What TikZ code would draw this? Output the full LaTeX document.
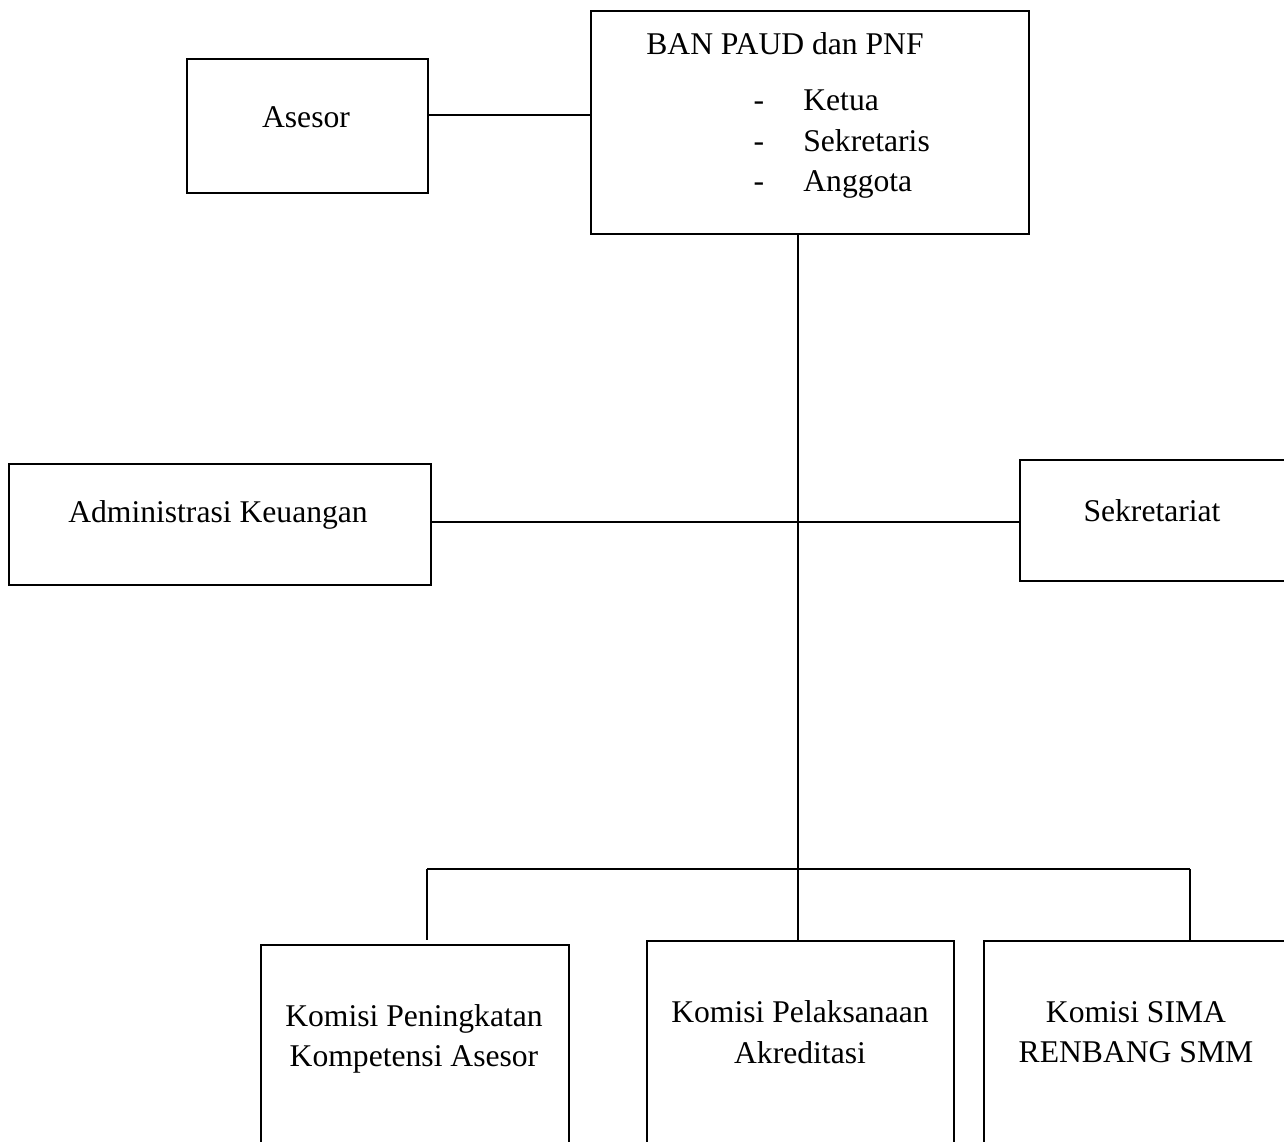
\documentclass[tikz,border=0pt]{standalone}
\usepackage{fontspec}
\setmainfont{Liberation Serif}
\usepackage{tikz}
\usetikzlibrary{arrows}

\begin{document}
\begin{tikzpicture}[x=0.02cm,y=-0.02cm,-,auto,
  font=\fontsize{18}{23}\selectfont,
  box node/.style={rectangle,draw,line width=1.1pt,anchor=north west,inner sep=0pt},
  text node/.style={inner sep=0pt,align=center},
  link/.style={line width=0.6pt}]
  \useasboundingbox (0,0) rectangle (1284,1142);
  \clip (0,0) rectangle (1284,1142);
  % boxes
  \node[box node,minimum width=8.76cm,minimum height=4.46cm] (ban) at (590,10) {};
  \node[box node,minimum width=4.82cm,minimum height=2.68cm] (asesor) at (186,58) {};
  \node[box node,minimum width=8.44cm,minimum height=2.42cm] (admin) at (8,463) {};
  \node[box node,minimum width=6.00cm,minimum height=2.42cm] (sekr) at (1019,459) {};
  \node[box node,minimum width=6.16cm,minimum height=4.60cm] (kom1) at (260,944) {};
  \node[box node,minimum width=6.14cm,minimum height=4.60cm] (kom2) at (646,940) {};
  \node[box node,minimum width=6.60cm,minimum height=4.60cm] (kom3) at (983,940) {};
  % texts
  \node[text node] (t1) at (785,44) {BAN PAUD dan PNF};
  \node[text node,anchor=base] (d1) at (759,111) {-};
  \node[text node,anchor=base] (d2) at (759,152) {-};
  \node[text node,anchor=base] (d3) at (759,192) {-};
  \node[text node,anchor=base west] (l1) at (803,111) {Ketua};
  \node[text node,anchor=base west] (l2) at (803,152) {Sekretaris};
  \node[text node,anchor=base west] (l3) at (803,192) {Anggota};
  \node[text node] (t2) at (306,117) {Asesor};
  \node[text node] (t3) at (218,515) {Administrasi Keuangan};
  \node[text node] (t4) at (1152,511) {Sekretariat};
  \node[text node] (t5) at (414,1039) {Komisi Peningkatan\\Kompetensi Asesor};
  \node[text node] (t6) at (800,1032) {Komisi Pelaksanaan\\Akreditasi};
  \node[text node] (t7) at (1136,1032) {Komisi SIMA\\RENBANG SMM};
  % lines
  \coordinate (bar l) at (427,869);
  \coordinate (bar r) at (1190,869);
  \coordinate (drop l) at (427,940);
  \coordinate (drop r) at (1190,940);
  \path[link]
    (asesor.east |- 0,115) edge (ban.west |- 0,115)
    (ban.south -| 798,0) edge (kom2.north -| 798,0)
    (admin.east |- 0,522) edge (sekr.west |- 0,522)
    (bar l) edge (bar r)
    (bar l) edge (drop l)
    (bar r) edge (drop r);
\end{tikzpicture}
\end{document}
